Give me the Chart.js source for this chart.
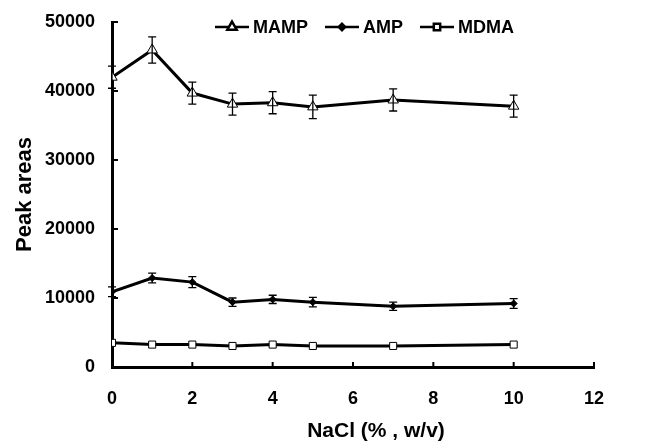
<!DOCTYPE html>
<html>
<head>
<meta charset="utf-8">
<script src="https://cdn.jsdelivr.net/npm/chart.js@4"></script>
<style>
  html, body { margin: 0; padding: 0; background: #fff; }
  #wrap { width: 649px; height: 444px; }
</style>
</head>
<body>
<div id="wrap"><canvas id="chart" width="649" height="444"></canvas></div>
<script>
const nacl = [0, 1, 2, 3, 4, 5, 7, 10];
const mampVals = [42000, 45950, 39700, 38100, 38300, 37700, 38700, 37800];
const mampErr = [1600, 1900, 1600, 1600, 1600, 1700, 1600, 1600];
const ampVals = [10900, 12900, 12300, 9400, 9800, 9400, 8800, 9200];
const ampErr = [700, 700, 800, 600, 600, 700, 600, 700];
const mdmaVals = [3500, 3250, 3250, 3050, 3250, 3050, 3050, 3250];
const mdmaErr = [0, 0, 0, 0, 0, 0, 0, 0];
const xTicks = [0, 2, 4, 6, 8, 10, 12];
const yTicks = [0, 10000, 20000, 30000, 40000, 50000];
const xTitle = 'NaCl (% , w/v)';

const font = "'Liberation Sans', Arial, sans-serif";

function toPoints(vals) {
    return nacl.map((x, i) => ({ x: x, y: vals[i] }));
}

const errorBars = {
    id: 'errorBars',
    afterDatasetsDraw(chart) {
        const ctx = chart.ctx;
        const xs = chart.scales.x, ys = chart.scales.y;
        ctx.save();
        ctx.strokeStyle = '#000';
        ctx.lineWidth = 1.3;
        chart.data.datasets.forEach(ds => {
            ds.data.forEach((p, i) => {
                const e = ds.errors[i];
                if (!e) return;
                const px = xs.getPixelForValue(p.x);
                const top = ys.getPixelForValue(p.y + e);
                const bot = ys.getPixelForValue(p.y - e);
                ctx.beginPath();
                ctx.moveTo(px, top); ctx.lineTo(px, bot);
                ctx.moveTo(px - 4, top); ctx.lineTo(px + 4, top);
                ctx.moveTo(px - 4, bot); ctx.lineTo(px + 4, bot);
                ctx.stroke();
            });
        });
        ctx.restore();
    }
};

// inward tick marks, x title and the legend
const axisDecor = {
    id: 'axisDecor',
    afterDraw(chart) {
        const ctx = chart.ctx;
        const xs = chart.scales.x, ys = chart.scales.y;
        const a = chart.chartArea;
        ctx.save();
        ctx.strokeStyle = '#000';
        ctx.lineWidth = 2;
        xTicks.forEach(v => {
            const px = xs.getPixelForValue(v);
            ctx.beginPath();
            ctx.moveTo(px, a.bottom); ctx.lineTo(px, a.bottom - 5);
            ctx.stroke();
        });
        yTicks.forEach(v => {
            const py = ys.getPixelForValue(v);
            ctx.beginPath();
            ctx.moveTo(a.left, py); ctx.lineTo(a.left + 6, py);
            ctx.stroke();
        });

        ctx.fillStyle = '#000';
        ctx.font = 'bold 21px ' + font;
        ctx.textAlign = 'center';
        ctx.textBaseline = 'middle';
        ctx.fillText(xTitle, 376, 431);

        // legend
        let lx = 215;
        const ly = 27;
        ctx.font = 'bold 18px ' + font;
        ctx.textAlign = 'left';
        chart.data.datasets.forEach(ds => {
            ctx.lineWidth = 2.5;
            ctx.strokeStyle = '#000';
            ctx.beginPath();
            ctx.moveTo(lx, ly); ctx.lineTo(lx + 34, ly);
            ctx.stroke();
            ctx.fillStyle = ds.pointBackgroundColor;
            Chart.helpers.drawPoint(ctx, {
                pointStyle: ds.pointStyle,
                radius: ds.pointRadius * 0.9,
                borderWidth: 1
            }, lx + 17, ly);
            ctx.fillStyle = '#000';
            ctx.fillText(ds.label, lx + 38, ly + 1);
            lx += 38 + ctx.measureText(ds.label).width + 17;
        });
        ctx.restore();
    }
};

function series(label, vals, errs, style, radius, bg) {
    return {
        label: label,
        data: toPoints(vals),
        errors: errs,
        borderColor: '#000',
        borderWidth: 3,
        pointStyle: style,
        pointRadius: radius,
        pointBackgroundColor: bg,
        pointBorderColor: '#000',
        pointBorderWidth: 1,
        tension: 0
    };
}

new Chart(document.getElementById('chart'), {
    type: 'line',
    data: {
        datasets: [
            series('MAMP', mampVals, mampErr, 'triangle', 6, '#fff'),
            series('AMP', ampVals, ampErr, 'rectRot', 3.5, '#000'),
            series('MDMA', mdmaVals, mdmaErr, 'rect', 5, '#fff')
        ]
    },
    options: {
        responsive: false,
        animation: false,
        layout: { padding: { left: 8, right: 55, top: 22, bottom: 8 } },
        plugins: { legend: { display: false }, tooltip: { enabled: false } },
        scales: {
            x: {
                type: 'linear',
                min: 0, max: 12,
                afterBuildTicks: s => { s.ticks = xTicks.map(v => ({ value: v })); },
                afterFit: s => { s.height = 69; s.paddingLeft = 0; s.paddingRight = 0; },
                grid: { display: false, drawTicks: false },
                border: { color: '#000', width: 3 },
                ticks: { color: '#000', font: { family: font, size: 18, weight: 'bold' }, padding: 21, maxRotation: 0 }
            },
            y: {
                min: 0, max: 50000,
                afterBuildTicks: s => { s.ticks = yTicks.map(v => ({ value: v })); },
                afterFit: s => { s.width = 104; s.paddingTop = 0; s.paddingBottom = 0; },
                grid: { display: false, drawTicks: false },
                border: { color: '#000', width: 3 },
                ticks: { color: '#000', font: { family: font, size: 18, weight: 'bold' }, padding: 17, callback: v => String(v) },
                title: { display: true, text: 'Peak areas', color: '#000', font: { family: font, size: 22, weight: 'bold' }, padding: { bottom: 0 } }
            }
        }
    },
    plugins: [errorBars, axisDecor]
});
</script>
</body>
</html>
